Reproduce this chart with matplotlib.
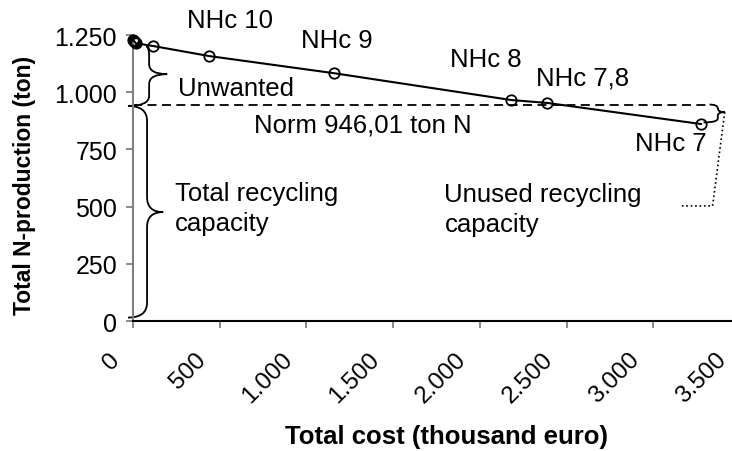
import matplotlib
matplotlib.use("Agg")
import matplotlib.pyplot as plt
from matplotlib.path import Path
from matplotlib.patches import PathPatch
from matplotlib.ticker import FuncFormatter, MultipleLocator
from matplotlib.transforms import ScaledTranslation

plt.rcParams['font.family'] = ['Liberation Sans', 'DejaVu Sans']

# data
cost = [0, 4, 8, 12, 16, 116, 440, 1160, 2180, 2390, 3275]
n_prod = [1230, 1226, 1222, 1218, 1214, 1202, 1158, 1083, 966, 953, 861]
norm = 946.01
labels = ["NHc 10", "NHc 9", "NHc 8", "NHc 7,8", "NHc 7"]
label_pos = [(562, 1316), (1176, 1228), (2034, 1145), (2590, 1066), (3100, 778)]
x_ticks = [0, 500, 1000, 1500, 2000, 2500, 3000, 3500]


def fmt(v, pos=None):
    return "{:,}".format(int(v)).replace(",", ".")


def brace(ax, x0t, x0b, x1, x2, ytop, ybot, ymid, r):
    verts = [(x0t, ytop), (x1, ytop), (x1, ytop - r),
             (x1, ymid + r),
             (x1, ymid), (x2, ymid),
             (x1, ymid), (x1, ymid - r),
             (x1, ybot + r),
             (x1, ybot), (x0b, ybot)]
    codes = [Path.MOVETO, Path.CURVE3, Path.CURVE3, Path.LINETO,
             Path.CURVE3, Path.CURVE3, Path.CURVE3, Path.CURVE3,
             Path.LINETO, Path.CURVE3, Path.CURVE3]
    ax.add_patch(PathPatch(Path(verts, codes), fill=False, lw=1.3,
                           edgecolor="black", clip_on=False))


fig = plt.figure(figsize=(7.32, 4.52), dpi=100)
ax = fig.add_axes([0.1817, 0.2876, 0.8292, 0.6327])

ax.plot(cost, n_prod, color="black", lw=1.5, marker="o", markersize=7.5,
        markerfacecolor="none", markeredgecolor="black", markeredgewidth=1.3,
        clip_on=False, zorder=3)

ax.plot([0, 3325], [norm, norm], color="black", lw=1.3, ls=(0, (5, 3)))

# braces
brace(ax, 75, -29, 93, 197, 1200, 940, 1079, 44)
brace(ax, -29, -29, 81, 174, 940, 15, 476, 65)
brace(ax, 3325, 3290, 3372, 3412, 946, 868, 913, 17)
ax.plot([3412, 3342, 3152], [913, 503, 503], color="black", lw=1.2, ls=":",
        clip_on=False)

fs = 18.5
for t, (x, y) in zip(labels, label_pos):
    ax.text(x, y, t, fontsize=fs, ha="center", va="center", clip_on=False)

ax.text(261, 1018, "Unwanted", fontsize=fs, ha="left", va="center")
ax.text(695, 861, "Norm 946,01 ton N", fontsize=fs, ha="left", va="center")
ax.text(243, 494, "Total recycling\ncapacity", fontsize=fs, ha="left",
        va="center", linespacing=1.35)
ax.text(1796, 490, "Unused recycling\ncapacity", fontsize=fs, ha="left",
        va="center", linespacing=1.35)

ax.set_xlim(0, 3500)
ax.set_ylim(0, 1250)
ax.yaxis.set_major_locator(MultipleLocator(250))
ax.yaxis.set_major_formatter(FuncFormatter(fmt))
ax.set_xticks(x_ticks)
ax.set_xticklabels([fmt(v) for v in x_ticks], rotation=45, ha="right",
                   va="center", rotation_mode="anchor")

for s in ["top", "right"]:
    ax.spines[s].set_visible(False)
ax.spines["left"].set_color("#808080")
ax.spines["left"].set_linewidth(1.5)
ax.spines["bottom"].set_color("black")
ax.spines["bottom"].set_linewidth(1.5)
ax.tick_params(axis="both", direction="out", length=5, width=1.3,
               color="#808080")
ax.tick_params(axis="y", pad=6.5, labelsize=18)
ax.tick_params(axis="x", pad=0, labelsize=17.5)
shift = ScaledTranslation(-17 / 100, -28 / 100, fig.dpi_scale_trans)
for lab in ax.get_xticklabels():
    lab.set_transform(lab.get_transform() + shift)

ax.set_ylabel("Total N-production (ton)", fontsize=16.5, fontweight="bold")
ax.yaxis.set_label_coords(-0.16, 0.479)
ax.set_xlabel("Total cost (thousand euro)", fontsize=18.5, fontweight="bold",
              va="center")
ax.xaxis.set_label_coords(0.517, -0.402)

fig.savefig("out.png", dpi=100)
